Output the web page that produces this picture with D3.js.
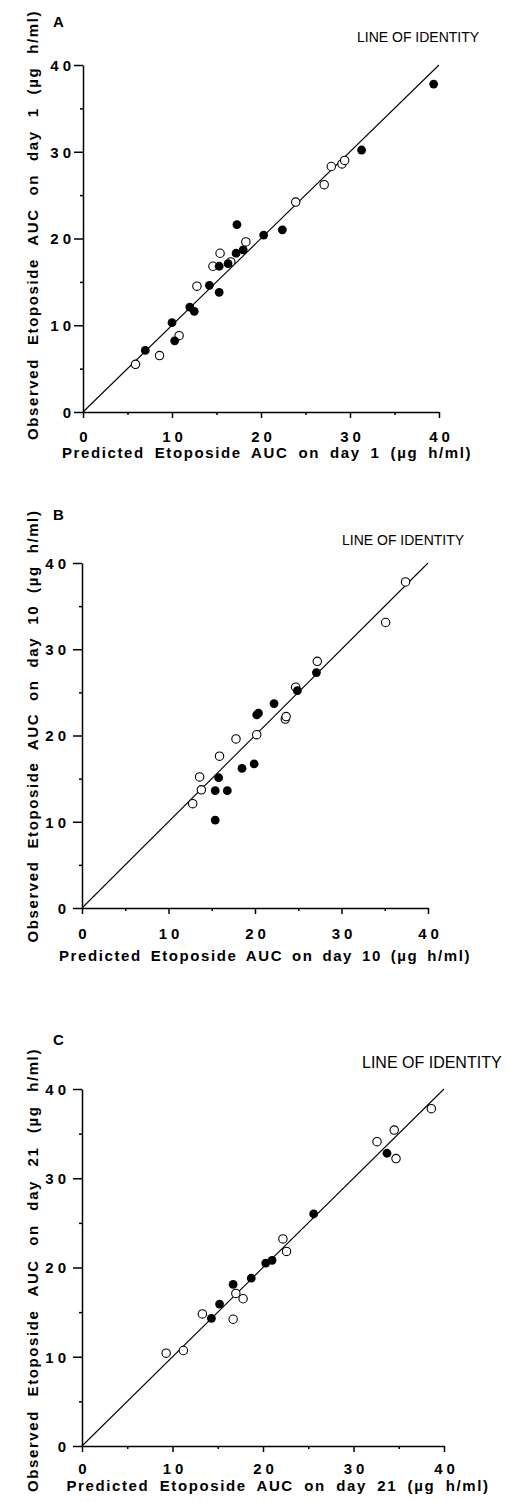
<!DOCTYPE html>
<html lang="en">
<head>
<meta charset="UTF-8">
<title>Etoposide AUC: observed vs predicted</title>
<style>
  body { margin: 0; background: #fff; }
  svg { display: block; }
  text { font-family: "Liberation Sans", Arial, Helvetica, sans-serif; fill: #000; }
  .tick text { font-size: 15px; font-weight: bold; letter-spacing: 4px; }
  .title { font-size: 15px; font-weight: bold; letter-spacing: 1.6px; }
  .panel-label { font-size: 15px; font-weight: bold; }
  .identity-label { font-size: 14px; }
  .domain, .tick line { stroke: #000; stroke-width: 1.5px; }
</style>
</head>
<body>
<svg width="508" height="1502"></svg>
<script src="https://d3js.org/d3.v7.min.js"></script>
<script>
// predicted AUC, observed AUC (ug h/ml)
const day1Open = [[5.9,5.5],[8.6,6.5],[10.8,8.8],[12.8,14.5],[14.6,16.8],[15.4,18.3],[16.6,17.3],
  [18.3,19.6],[23.9,24.2],[27.1,26.2],[27.9,28.3],[29.1,28.6],[29.4,29.0]];
const day1Filled = [[7.0,7.1],[10.0,10.3],[10.3,8.2],[12.0,12.1],[12.5,11.6],[14.2,14.6],[15.3,13.8],
  [15.3,16.8],[16.3,17.1],[17.2,18.3],[18.0,18.7],[17.3,21.6],[20.3,20.4],[22.4,21.0],[31.3,30.2],[39.4,37.8]];

const day10Open = [[12.8,12.1],[13.6,15.2],[13.8,13.7],[15.9,17.6],[17.8,19.6],[20.2,20.1],[23.5,21.9],
  [23.6,22.2],[24.7,25.6],[27.2,28.6],[35.1,33.1],[37.4,37.8]];
const day10Filled = [[15.4,10.2],[15.4,13.6],[15.8,15.1],[16.8,13.6],[18.5,16.2],[19.9,16.7],[20.2,22.4],
  [20.4,22.6],[22.2,23.7],[24.9,25.2],[27.1,27.3]];

const day21Open = [[9.3,10.4],[11.2,10.7],[13.3,14.8],[16.7,14.2],[17.0,17.1],[17.8,16.5],[22.2,23.2],
  [22.6,21.8],[32.6,34.1],[34.5,35.4],[34.7,32.2],[38.6,37.8]];
const day21Filled = [[14.3,14.3],[15.2,15.9],[16.7,18.1],[18.7,18.8],[20.3,20.5],[21.0,20.8],[25.6,26.0],[33.7,32.8]];

const majorTicks = [0, 10, 20, 30, 40];
const minorTicks = [5, 15, 25, 35];
const identity = [0, 40];

const panelLabels = ["A", "B", "C"];
const days = ["1", "10", "21"];
const identityLabel = "LINE OF IDENTITY";

// layout of each panel (pixels)
const panels = [
  { open: day1Open, filled: day1Filled, xr: [83, 439], yr: [412, 65],
    lab: [53, 27], idl: [357, 42, 14], yt: [38, 225, 430], xt: [267, 458, 410], ypad: 3, xpad: 13 },
  { open: day10Open, filled: day10Filled, xr: [82, 428], yr: [908, 563],
    lab: [53, 520], idl: [342, 545, 14], yt: [38, 726, 433], xt: [265, 961, 412], ypad: 7, xpad: 14 },
  { open: day21Open, filled: day21Filled, xr: [82, 444], yr: [1446, 1089],
    lab: [53, 1045], idl: [362, 1068, 16], yt: [38, 1270, 444], xt: [278, 1491, 423], ypad: 7, xpad: 11 }
];

const svg = d3.select("svg");
const ls = 4;

// stretch a title to a width by widening the gaps between words
function spread(t, width) {
  const n = t.text().split(" ").length - 1;
  const w = t.node().getComputedTextLength();
  t.style("word-spacing", Math.max(0, (width - w) / n) + "px");
}

panels.forEach((p, i) => {
  const x = d3.scaleLinear().domain([0, 40]).range(p.xr);
  const y = d3.scaleLinear().domain([0, 40]).range(p.yr);
  const g = svg.append("g");

  // minor ticks
  g.append("g")
    .attr("transform", `translate(${p.xr[0]},0)`)
    .call(d3.axisLeft(y).tickValues(minorTicks).tickSize(3).tickFormat(""))
    .call(a => a.select(".domain").remove());
  g.append("g")
    .attr("transform", `translate(0,${p.yr[0]})`)
    .call(d3.axisBottom(x).tickValues(minorTicks).tickSize(3).tickFormat(""))
    .call(a => a.select(".domain").remove());

  // major axes
  g.append("g")
    .attr("transform", `translate(${p.xr[0]},0)`)
    .call(d3.axisLeft(y).tickValues(majorTicks).tickSize(9).tickSizeOuter(0).tickPadding(p.ypad).tickFormat(d3.format("d")))
    .call(a => a.selectAll("text").attr("dx", ls).attr("dy", "0.36em"));
  g.append("g")
    .attr("transform", `translate(0,${p.yr[0]})`)
    .call(d3.axisBottom(x).tickValues(majorTicks).tickSize(6).tickSizeOuter(0).tickPadding(p.xpad).tickFormat(d3.format("d")))
    .call(a => a.selectAll("text").attr("dx", ls / 2));

  // line of identity
  g.append("line")
    .attr("x1", x(identity[0])).attr("y1", y(identity[0]))
    .attr("x2", x(identity[1])).attr("y2", y(identity[1]))
    .attr("stroke", "#000").attr("stroke-width", 1.1);

  g.selectAll(".open").data(p.open).join("circle")
    .attr("cx", d => x(d[0])).attr("cy", d => y(d[1])).attr("r", 4.2)
    .attr("fill", "#fff").attr("stroke", "#000").attr("stroke-width", 1.1);
  g.selectAll(".filled").data(p.filled).join("circle")
    .attr("cx", d => x(d[0])).attr("cy", d => y(d[1])).attr("r", 4.4)
    .attr("fill", "#000");

  g.append("text").attr("class", "panel-label")
    .attr("x", p.lab[0]).attr("y", p.lab[1]).text(panelLabels[i]);

  g.append("text").attr("class", "identity-label")
    .attr("x", p.idl[0]).attr("y", p.idl[1]).style("font-size", p.idl[2] + "px")
    .text(identityLabel);

  const yTitle = g.append("text").attr("class", "title")
    .attr("transform", `translate(${p.yt[0]},${p.yt[1]}) rotate(-90)`)
    .attr("text-anchor", "middle")
    .text(`Observed Etoposide AUC on day ${days[i]} (\u00b5g h/ml)`);
  spread(yTitle, p.yt[2]);

  const xTitle = g.append("text").attr("class", "title")
    .attr("x", p.xt[0]).attr("y", p.xt[1])
    .attr("text-anchor", "middle")
    .text(`Predicted Etoposide AUC on day ${days[i]} (\u00b5g h/ml)`);
  spread(xTitle, p.xt[2]);
});
</script>
</body>
</html>
